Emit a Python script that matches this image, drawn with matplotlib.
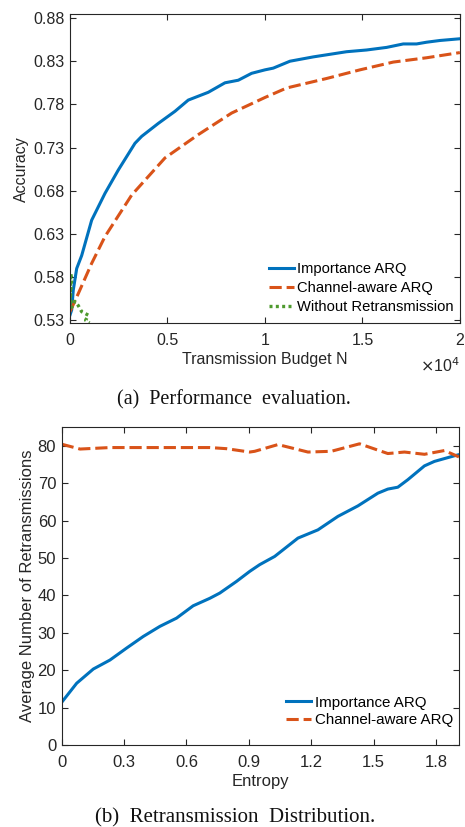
import matplotlib
matplotlib.use("Agg")
import matplotlib.pyplot as plt
import numpy as np

# (a) accuracy vs transmission budget
budget_imp = [0, 87, 169, 344, 600, 1113, 1795, 2477, 3334, 3677, 4529, 5385, 6067,
              7092, 7949, 8633, 9317, 10000, 10427, 11282, 12477, 14189, 15215,
              16241, 17094, 17777, 18291, 18974, 20000]
acc_imp = [0.536, 0.542, 0.565, 0.590, 0.605, 0.646, 0.677, 0.704, 0.735, 0.743,
           0.758, 0.772, 0.785, 0.794, 0.805, 0.808, 0.816, 0.820, 0.822, 0.830,
           0.835, 0.841, 0.843, 0.846, 0.850, 0.850, 0.852, 0.854, 0.856]
budget_ch = [0, 427, 1113, 1795, 3163, 4872, 6580, 8292, 10000, 11111, 13162,
             14872, 16581, 18291, 20000]
acc_ch = [0.540, 0.561, 0.596, 0.627, 0.675, 0.718, 0.745, 0.770, 0.788, 0.799,
          0.810, 0.820, 0.829, 0.834, 0.840]
budget_none = [0, 40, 87, 60, 20, 87, 250, 427, 600, 940, 800, 1000]
acc_none = [0.548, 0.584, 0.578, 0.569, 0.556, 0.545, 0.552, 0.547, 0.540, 0.536,
            0.530, 0.527]

# (b) retransmissions vs entropy
ent_imp = [0, 0.072, 0.152, 0.232, 0.312, 0.392, 0.472, 0.552, 0.632, 0.712, 0.76,
           0.84, 0.904, 0.952, 1.024, 1.136, 1.232, 1.328, 1.424, 1.52, 1.568,
           1.616, 1.664, 1.744, 1.792, 1.888, 1.91]
retx_imp = [11.4, 16.5, 20.3, 22.7, 25.9, 29.0, 31.7, 33.9, 37.2, 39.2, 40.6, 43.7,
            46.4, 48.2, 50.4, 55.3, 57.5, 61.1, 63.9, 67.3, 68.4, 68.9, 70.9, 74.6,
            75.8, 77.3, 77.6]
ent_ch = [0, 0.088, 0.232, 0.472, 0.712, 0.792, 0.904, 0.928, 1.04, 1.184, 1.296,
          1.432, 1.568, 1.648, 1.744, 1.84, 1.91]
retx_ch = [80.4, 79.1, 79.5, 79.5, 79.5, 79.2, 78.3, 78.5, 80.3, 78.3, 78.5, 80.5,
           77.9, 78.3, 77.7, 78.7, 77.0]

BLUE = '#0072BD'
ORANGE = '#D95319'
GREEN = '#4E9A2E'
AXC = '#262626'

plt.rcParams['font.family'] = ['Liberation Sans', 'DejaVu Sans']

fig = plt.figure(figsize=(4.65, 8.27), dpi=100)
ax1 = fig.add_axes([0.1505, 0.609, 0.8385, 0.374])
ax2 = fig.add_axes([0.1327, 0.0992, 0.8543, 0.3845])

def style(ax, size):
    for s in ax.spines.values():
        s.set_color(AXC)
        s.set_linewidth(0.8)
    ax.tick_params(direction='in', top=True, right=True, colors=AXC,
                   labelsize=size, length=4, width=0.8)
    ax.tick_params(axis='x', pad=7)
    ax.tick_params(axis='y', pad=4)

ax1.plot(budget_imp, acc_imp, color=BLUE, lw=2.2, label='Importance ARQ')
ax1.plot(budget_ch, acc_ch, color=ORANGE, lw=2.2, dashes=(4, 1.6),
         label='Channel-aware ARQ')
ax1.plot(budget_none, acc_none, color=GREEN, lw=2.4, dashes=(0.9, 1.0),
         label='Without Retransmission')
ax1.set_xlim(0, 20000)
ax1.set_ylim(0.5265, 0.8846)
yt = np.arange(0.53, 0.881, 0.05)
ax1.set_yticks(yt)
ax1.set_yticklabels([f'{v:.2f}' for v in yt])
ax1.set_xticks([0, 5000, 10000, 15000, 20000])
ax1.set_xticklabels(['0', '0.5', '1', '1.5', '2'])
style(ax1, 11.5)
ax1.set_xlabel('Transmission Budget N', fontsize=11.5, color=AXC, labelpad=3)
ax1.set_ylabel('Accuracy', fontsize=11.5, color=AXC, labelpad=3)
ax1.legend(loc='lower right', bbox_to_anchor=(1.0, 0.011), frameon=False,
           fontsize=10.6, handlelength=1.65, handletextpad=0.25,
           labelspacing=0.33, borderaxespad=0)
fig.text(460 / 465, 1 - 366 / 827, r'$\times$10$^4$', ha='right', va='center',
         fontsize=11.5, color=AXC)

ax2.plot(ent_imp, retx_imp, color=BLUE, lw=2.2, label='Importance ARQ')
ax2.plot(ent_ch, retx_ch, color=ORANGE, lw=2.2, dashes=(4, 1.6),
         label='Channel-aware ARQ')
ax2.set_xlim(0, 1.91)
ax2.set_ylim(0, 85)
ax2.set_xticks([0, 0.3, 0.6, 0.9, 1.2, 1.5, 1.8])
ax2.set_xticklabels(['0', '0.3', '0.6', '0.9', '1.2', '1.5', '1.8'])
ax2.set_yticks(range(0, 81, 10))
style(ax2, 12)
ax2.set_xlabel('Entropy', fontsize=12, color=AXC, labelpad=3)
ax2.set_ylabel('Average Number of Retransmissions', fontsize=12, color=AXC, labelpad=2)
ax2.legend(loc='lower right', bbox_to_anchor=(1.0, 0.038), frameon=False,
           fontsize=10.9, handlelength=1.65, handletextpad=0.25,
           labelspacing=0.2, borderaxespad=0)

fig.text(0.503, 1 - 400 / 827, '(a)  Performance  evaluation.', ha='center',
         va='center', fontsize=14.5, family='Liberation Serif', color='#111111')
fig.text(0.505, 1 - 818 / 827, '(b)  Retransmission  Distribution.', ha='center',
         va='center', fontsize=15, family='Liberation Serif', color='#111111')

fig.savefig('out.png', dpi=100)
